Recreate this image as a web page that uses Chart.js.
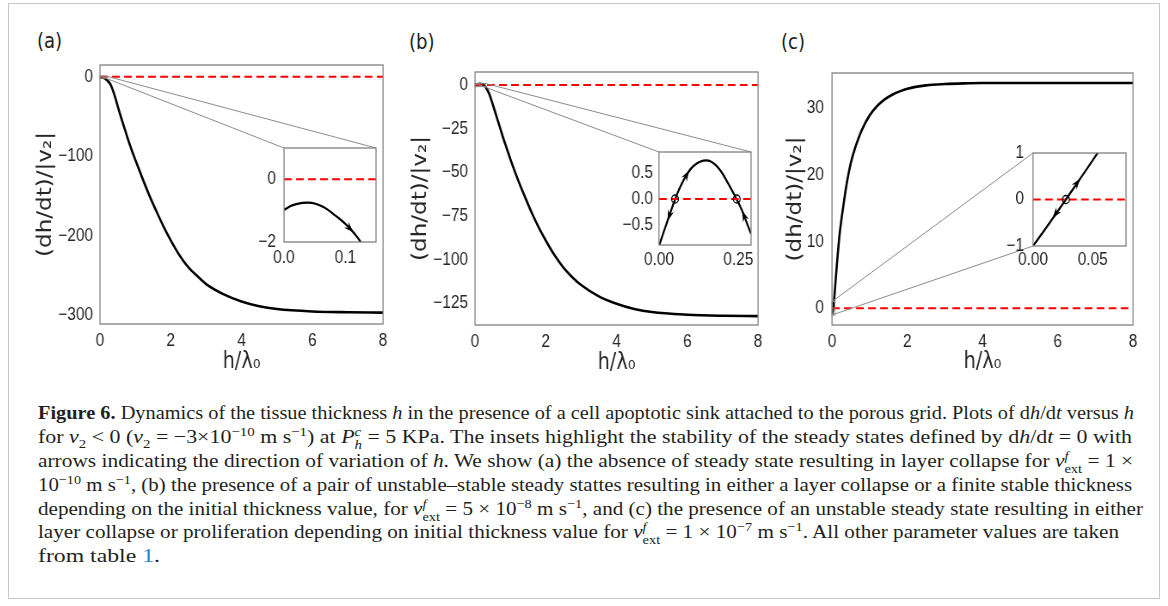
<!DOCTYPE html>
<html>
<head>
<meta charset="utf-8">
<script src="https://cdn.jsdelivr.net/npm/chart.js@4.4.1/dist/chart.umd.min.js"></script>
<style>
html, body { margin: 0; padding: 0; background: #fff; }
body { width: 1168px; height: 606px; position: relative; overflow: hidden; }
#frame { position: absolute; left: 8px; top: 3px; width: 1152px; height: 596px; border: 1px solid #c8c8c8; box-sizing: border-box; }
canvas { position: absolute; }
.plabel { position: absolute; font-family: "DejaVu Sans", sans-serif; font-size: 21px; line-height: 24px; color: #222; transform: scaleX(0.86); transform-origin: 0 50%; }
.cap { position: absolute; left: 38px; display: inline-block; font-family: "Liberation Serif", "Times New Roman", serif; font-size: 19.5px; line-height: 24px; color: #231f20; white-space: nowrap; transform-origin: 0 50%; }
.cap sup, .cap sub { font-size: 0.68em; line-height: 0; }
.ss { display: inline-block; vertical-align: -0.42em; line-height: 0.95em; font-size: 0.68em; text-align: left; }
.ss span { display: block; }
.lnk { color: #2b7bbf; }
</style>
</head>
<body>
<div id="frame"></div>
<div class="plabel" style="left:37px;top:29px">(a)</div>
<div class="plabel" style="left:409px;top:30px">(b)</div>
<div class="plabel" style="left:781px;top:30px">(c)</div>

<canvas id="mainA"></canvas>
<canvas id="mainB"></canvas>
<canvas id="mainC"></canvas>
<canvas id="insetA"></canvas>
<canvas id="insetB"></canvas>
<canvas id="insetC"></canvas>

<div class="cap" style="top:401px"><b>Figure 6.</b> Dynamics of the tissue thickness <i>h</i> in the presence of a cell apoptotic sink attached to the porous grid. Plots of d<i>h</i>/d<i>t</i> versus <i>h</i></div>
<div class="cap" style="top:425px">for <i>v</i><sub>2</sub> &lt; 0 (<i>v</i><sub>2</sub> = −3×10<sup>−10</sup> m s<sup>−1</sup>) at <i>P</i><span class="ss"><span><i>c</i></span><span><i>h</i></span></span> = 5 KPa. The insets highlight the stability of the steady states defined by d<i>h</i>/d<i>t</i> = 0 with</div>
<div class="cap" style="top:449px">arrows indicating the direction of variation of <i>h</i>. We show (a) the absence of steady state resulting in layer collapse for <i>v</i><span class="ss"><span><i>f</i></span><span>ext</span></span> = 1 ×</div>
<div class="cap" style="top:473px">10<sup>−10</sup> m s<sup>−1</sup>, (b) the presence of a pair of unstable–stable steady stattes resulting in either a layer collapse or a finite stable thickness</div>
<div class="cap" style="top:497px">depending on the initial thickness value, for <i>v</i><span class="ss"><span><i>f</i></span><span>ext</span></span> = 5 × 10<sup>−8</sup> m s<sup>−1</sup>, and (c) the presence of an unstable steady state resulting in either</div>
<div class="cap" style="top:520px">layer collapse or proliferation depending on initial thickness value for <i>v</i><span class="ss"><span><i>f</i></span><span>ext</span></span> = 1 × 10<sup>−7</sup> m s<sup>−1</sup>. All other parameter values are taken</div>
<div class="cap" style="top:544px">from table <span class="lnk">1</span>.</div>

<script>
'use strict';

// ---- data ----
var hMainTicks = [0, 2, 4, 6, 8];
var hMainLabels = ['0', '2', '4', '6', '8'];
var hMainRange = [0, 8];

// (a)  v_ext = 1e-10
var hA = [0, 0.1, 0.2, 0.3, 0.4, 0.5, 0.6, 0.7, 0.8, 0.9, 1.0, 1.2, 1.4, 1.6, 1.8, 2.0, 2.25, 2.5, 2.75, 3.0, 3.5, 4.0, 4.5, 5.0, 6.0, 7.0, 8.0];
var rateA = [-1, -1.4, -4.6, -10, -22, -37, -52, -66, -80, -93, -105, -128, -150, -170, -189, -206, -225, -240, -251, -261, -274, -283, -289, -292.5, -295.5, -296.5, -297];
var rateATicks = [-300, -200, -100, 0];
var rateALabels = ['\u2212300', '\u2212200', '\u2212100', '0'];
var hInA = [0, 0.01, 0.02, 0.03, 0.04, 0.05, 0.06, 0.07, 0.08, 0.09, 0.1, 0.11, 0.12, 0.125, 0.13];
var rateInA = [-0.98, -0.86, -0.79, -0.75, -0.745, -0.77, -0.84, -0.95, -1.1, -1.25, -1.42, -1.62, -1.86, -2.0, -2.13];
var inATicksX = [0, 0.1], inALabelsX = ['0.0', '0.1'];
var inATicksY = [-2, 0], inALabelsY = ['\u22122', '0'];
var inARangeX = [0, 0.15], inARangeY = [-2, 1];
var arrowsA = [[0.1, -1.42, 0.113, -1.69]];

// (b)  v_ext = 5e-8
var hB = [0, 0.05, 0.1, 0.15, 0.2, 0.25, 0.3, 0.4, 0.5, 0.6, 0.7, 0.8, 0.9, 1.0, 1.2, 1.4, 1.6, 1.8, 2.0, 2.25, 2.5, 2.75, 3.0, 3.5, 4.0, 4.5, 5.0, 6.0, 7.0, 8.0];
var rateB = [-0.92, -0.02, 0.59, 0.755, 0.5, -0.07, -1.2, -5, -11, -17.5, -24, -30.5, -36.5, -42.5, -53.5, -63.5, -73, -81.5, -89, -97.5, -104.5, -110, -114.5, -121, -125.2, -128.2, -130, -131.5, -132.1, -132.3];
var rateBTicks = [-125, -100, -75, -50, -25, 0];
var rateBLabels = ['\u2212125', '\u2212100', '\u221275', '\u221250', '\u221225', '0'];
var hInB = [0, 0.01, 0.02, 0.03, 0.04, 0.05, 0.06, 0.08, 0.1, 0.12, 0.14, 0.15, 0.16, 0.18, 0.2, 0.22, 0.24, 0.26, 0.28, 0.29];
var rateInB = [-0.92, -0.73, -0.55, -0.37, -0.19, -0.02, 0.14, 0.40, 0.59, 0.70, 0.75, 0.755, 0.745, 0.66, 0.50, 0.28, 0.05, -0.2, -0.52, -0.68];
var inBTicksX = [0, 0.25], inBLabelsX = ['0.00', '0.25'];
var inBTicksY = [-0.5, 0, 0.5], inBLabelsY = ['\u22120.5', '0.0', '0.5'];
var inBRangeX = [0, 0.29], inBRangeY = [-0.9, 0.92];
var steadyB = [0.0505, 0.245];
var arrowsB = [[0.085, 0.45, 0.095, 0.56], [0.035, -0.28, 0.027, -0.43], [0.272, -0.39, 0.262, -0.23]];

// (c)  v_ext = 1e-7
var hC = [0, 0.05, 0.1, 0.2, 0.3, 0.4, 0.5, 0.6, 0.7, 0.8, 1.0, 1.2, 1.4, 1.6, 1.8, 2.0, 2.5, 3.0, 3.5, 4.0, 5.0, 6.0, 7.0, 8.0];
var rateC = [-1, 0.9, 4.5, 11, 15.3, 19, 21.8, 23.8, 25.4, 26.8, 28.9, 30.3, 31.3, 32.0, 32.5, 32.9, 33.4, 33.6, 33.7, 33.75, 33.75, 33.75, 33.75, 33.75];
var rateCTicks = [0, 10, 20, 30];
var rateCLabels = ['0', '10', '20', '30'];
var hInC = [0, 0.01, 0.02, 0.03, 0.04, 0.05, 0.06];
var rateInC = [-1, -0.645, -0.28, 0.09, 0.465, 0.84, 1.22];
var inCTicksX = [0, 0.05], inCLabelsX = ['0.00', '0.05'];
var inCTicksY = [-1, 0, 1], inCLabelsY = ['\u22121', '0', '1'];
var inCRangeX = [0, 0.078], inCRangeY = [-1, 1];
var steadyC = [0.0276];
var arrowsC = [[0.033, 0.21, 0.0395, 0.445], [0.023, -0.16, 0.0165, -0.40]];

// ---- look ----
var ink = '#262626';
var spine = '#808080';
var squeeze = 0.86;   // the printed figure is narrower than it is tall
var sansFamily = '"Liberation Sans", Arial, sans-serif';
var titleFamily = '"DejaVu Sans", sans-serif';
var yTitle = '(dh/dt)/|v\u2082|';
var xTitle = 'h/\u03bb\u2080';

function fitSize(text, family, target) {
    var ctx = document.createElement('canvas').getContext('2d');
    ctx.font = '100px ' + family;
    return 100 * target / ctx.measureText(text).width;
}

var tickFont = {family: sansFamily, size: fitSize('\u2212125', sansFamily, 40.5), lineHeight: 1.2};
var yTitleFont = {family: titleFamily, size: fitSize(yTitle, titleFamily, 125), lineHeight: 1};
var xTitleFont = {family: titleFamily, size: fitSize(xTitle, titleFamily, 44), lineHeight: 1};

var extras = {};

function pts(xs, ys) {
    return xs.map(function (x, i) { return {x: x, y: ys[i]}; });
}

function curve(xs, ys, w) {
    return {data: pts(xs, ys), showLine: true, borderColor: '#000', borderWidth: w,
        pointRadius: 0, cubicInterpolationMode: 'monotone', order: 2};
}

function zeroLine(range, w) {
    return {data: pts(range, range.map(function () { return 0; })), showLine: true,
        borderColor: '#ff0000', borderWidth: w, borderDash: [9, 5], pointRadius: 0, order: 1};
}

function rings(xs) {
    return {data: pts(xs, xs.map(function () { return 0; })), showLine: false,
        pointRadius: 4, pointBorderWidth: 1.3, pointBorderColor: '#000',
        pointBackgroundColor: 'rgba(0,0,0,0)', order: 0};
}

var panelPlugin = {
    id: 'panel',
    beforeDatasetsDraw: function (chart) {
        var ex = extras[chart.canvas.id], a = chart.chartArea, ctx = chart.ctx;
        if (ex.inset) {
            ctx.save();
            ctx.fillStyle = '#fff';
            ctx.fillRect(a.left, a.top, a.right - a.left, a.bottom - a.top);
            ctx.restore();
        }
    },
    afterDatasetsDraw: function (chart) {
        var ex = extras[chart.canvas.id], ctx = chart.ctx;
        var xs = chart.scales.x, ys = chart.scales.y, a = chart.chartArea;

        // arrowheads along the inset curves
        if (ex.arrows) {
            ctx.save();
            ctx.beginPath();
            ctx.rect(a.left, a.top, a.right - a.left, a.bottom - a.top);
            ctx.clip();
            ctx.fillStyle = '#000';
            ex.arrows.forEach(function (ar) {
                var x0 = xs.getPixelForValue(ar[0]), y0 = ys.getPixelForValue(ar[1]);
                var x1 = xs.getPixelForValue(ar[2]), y1 = ys.getPixelForValue(ar[3]);
                var len = Math.hypot(x1 - x0, y1 - y0), ux = (x1 - x0) / len, uy = (y1 - y0) / len;
                var px = -uy, py = ux, L = 11, W = 3.8;
                ctx.beginPath();
                ctx.moveTo(x1, y1);
                ctx.lineTo(x1 - ux * L + px * W, y1 - uy * L + py * W);
                ctx.lineTo(x1 - ux * L * 0.65, y1 - uy * L * 0.65);
                ctx.lineTo(x1 - ux * L - px * W, y1 - uy * L - py * W);
                ctx.closePath();
                ctx.fill();
            });
            ctx.restore();
        }

        // zoom box and connector lines to the inset
        if (ex.link) {
            var ins = Chart.getChart(ex.link.inset), iex = extras[ex.link.inset], ia = ins.chartArea;
            var toMainX = function (v) { return (iex.box.x + v * iex.s - ex.box.x) / ex.s; };
            var dy = iex.box.y - ex.box.y;
            var reg = {l: xs.getPixelForValue(ex.link.rx[0]), r: xs.getPixelForValue(ex.link.rx[1]),
                t: ys.getPixelForValue(ex.link.ry[1]), b: ys.getPixelForValue(ex.link.ry[0])};
            var inb = {l: toMainX(ia.left), r: toMainX(ia.right), t: ia.top + dy, b: ia.bottom + dy};
            ctx.save();
            ctx.strokeStyle = '#8a8a8a';
            ctx.lineWidth = 1;
            ctx.strokeRect(reg.l, reg.t, reg.r - reg.l, reg.b - reg.t);
            ex.link.corners.forEach(function (c) {
                var vx = c[1] === 'l' ? 'l' : 'r', vy = c[0] === 't' ? 't' : 'b';
                ctx.beginPath();
                ctx.moveTo(reg[vx], reg[vy]);
                ctx.lineTo(inb[vx], inb[vy]);
                ctx.stroke();
            });
            ctx.restore();
        }
    },
    afterDraw: function (chart) {
        var a = chart.chartArea, ctx = chart.ctx;
        ctx.save();
        ctx.strokeStyle = spine;
        ctx.lineWidth = 1.3;
        ctx.strokeRect(a.left, a.top, a.right - a.left, a.bottom - a.top);
        ctx.restore();
    }
};

// box: canvas on the page, area: wanted plot area on the page
function makeChart(id, box, area, spec) {
    var c = document.getElementById(id);
    var iw = Math.round(box.w / squeeze);
    var s = box.w / iw;
    c.width = iw;
    c.height = box.h;
    c.style.left = box.x + 'px';
    c.style.top = box.y + 'px';
    c.style.width = box.w + 'px';
    c.style.height = box.h + 'px';
    extras[id] = {box: box, s: s, inset: spec.inset, arrows: spec.arrows, link: spec.link};

    var yW = (area.l - box.x) / s;
    var padRight = iw - (area.r - box.x) / s;
    var xH = box.y + box.h - area.b;
    var yTitlePad = spec.yTitleX ? (spec.yTitleX - box.x) / s - yTitleFont.size / 2 : 0;
    var xTitlePad = spec.xTitleY ? box.y + box.h - spec.xTitleY - xTitleFont.size / 2 : 0;

    return new Chart(c, {
        type: 'scatter',
        data: {datasets: spec.datasets},
        plugins: [panelPlugin],
        options: {
            responsive: false,
            animation: false,
            events: [],
            layout: {padding: {left: 0, top: area.t - box.y, right: padRight, bottom: 0}},
            plugins: {legend: {display: false}, tooltip: {enabled: false}},
            scales: {
                x: {
                    type: 'linear', min: spec.xRange[0], max: spec.xRange[1],
                    grid: {display: false, drawTicks: false}, border: {display: false},
                    afterBuildTicks: function (sc) { sc.ticks = spec.xTicks.map(function (v) { return {value: v}; }); },
                    afterFit: function (sc) { sc.height = xH; },
                    ticks: {autoSkip: false, maxRotation: 0, padding: spec.xPad, font: tickFont, color: ink,
                        callback: function (v, i) { return spec.xLabels[i]; }},
                    title: spec.xTitleY
                        ? {display: true, text: xTitle, font: xTitleFont, color: ink, padding: {top: 0, bottom: xTitlePad}}
                        : {display: false}
                },
                y: {
                    type: 'linear', min: spec.yRange[0], max: spec.yRange[1],
                    grid: {display: false, drawTicks: false}, border: {display: false},
                    afterBuildTicks: function (sc) { sc.ticks = spec.yTicks.map(function (v) { return {value: v}; }); },
                    afterFit: function (sc) { sc.width = yW; },
                    ticks: {autoSkip: false, padding: spec.yPad / s, font: tickFont, color: ink,
                        callback: function (v, i) { return spec.yLabels[i]; }},
                    title: spec.yTitleX
                        ? {display: true, text: yTitle, font: yTitleFont, color: ink, padding: {top: yTitlePad, bottom: 0}}
                        : {display: false}
                }
            }
        }
    });
}

// insets first, so the main panels can point at them
makeChart('insetA', {x: 228, y: 124, w: 160, h: 149}, {l: 284, r: 376, t: 148, b: 242}, {
    inset: true, arrows: arrowsA,
    xRange: inARangeX, yRange: inARangeY, xTicks: inATicksX, xLabels: inALabelsX,
    yTicks: inATicksY, yLabels: inALabelsY, xPad: 5, yPad: 8,
    datasets: [curve(hInA, rateInA, 2.2), zeroLine(inARangeX, 2)]
});
makeChart('insetB', {x: 600, y: 128, w: 163, h: 147}, {l: 659, r: 751, t: 152, b: 245}, {
    inset: true, arrows: arrowsB,
    xRange: inBRangeX, yRange: inBRangeY, xTicks: inBTicksX, xLabels: inBLabelsX,
    yTicks: inBTicksY, yLabels: inBLabelsY, xPad: 4, yPad: 6,
    datasets: [curve(hInB, rateInB, 2.2), zeroLine(inBRangeX, 2), rings(steadyB)]
});
makeChart('insetC', {x: 980, y: 129, w: 158, h: 146}, {l: 1033, r: 1126, t: 153, b: 246}, {
    inset: true, arrows: arrowsC,
    xRange: inCRangeX, yRange: inCRangeY, xTicks: inCTicksX, xLabels: inCLabelsX,
    yTicks: inCTicksY, yLabels: inCLabelsY, xPad: 3, yPad: 9,
    datasets: [curve(hInC, rateInC, 2.2), zeroLine(inCRangeX, 2), rings(steadyC)]
});

makeChart('mainA', {x: 20, y: 41, w: 380, h: 344}, {l: 100, r: 383, t: 65, b: 324}, {
    link: {inset: 'insetA', rx: inARangeX, ry: inARangeY, corners: ['tl', 'tr']},
    xRange: hMainRange, yRange: [-311.3, 14.7], xTicks: hMainTicks, xLabels: hMainLabels,
    yTicks: rateATicks, yLabels: rateALabels, xPad: 6, yPad: 7,
    xTitleY: 362, yTitleX: 46,
    datasets: [curve(hA, rateA, 2.6), zeroLine(hMainRange, 2)]
});
makeChart('mainB', {x: 395, y: 48, w: 380, h: 337}, {l: 475, r: 758, t: 72, b: 325}, {
    link: {inset: 'insetB', rx: inBRangeX, ry: inBRangeY, corners: ['tl', 'tr']},
    xRange: hMainRange, yRange: [-137.4, 7.45], xTicks: hMainTicks, xLabels: hMainLabels,
    yTicks: rateBTicks, yLabels: rateBLabels, xPad: 6, yPad: 7,
    xTitleY: 363, yTitleX: 421,
    datasets: [curve(hB, rateB, 2.6), zeroLine(hMainRange, 2)]
});
makeChart('mainC', {x: 770, y: 49, w: 385, h: 336}, {l: 832, r: 1133, t: 73, b: 325}, {
    link: {inset: 'insetC', rx: inCRangeX, ry: inCRangeY, corners: ['tl', 'bl']},
    xRange: hMainRange, yRange: [-2.5, 35.25], xTicks: hMainTicks, xLabels: hMainLabels,
    yTicks: rateCTicks, yLabels: rateCLabels, xPad: 6, yPad: 8,
    xTitleY: 362, yTitleX: 796,
    datasets: [curve(hC, rateC, 2.6), zeroLine(hMainRange, 2)]
});

// squeeze each caption line to the width it has in the printed figure
var capWidths = [1096, 1094, 1095, 1094, 1105, 1081, 122];
var caps = document.querySelectorAll('.cap');
for (var i = 0; i < caps.length; i++) {
    var w = caps[i].getBoundingClientRect().width;
    caps[i].style.transform = 'scaleX(' + (capWidths[i] / w) + ')';
}
</script>
</body>
</html>
